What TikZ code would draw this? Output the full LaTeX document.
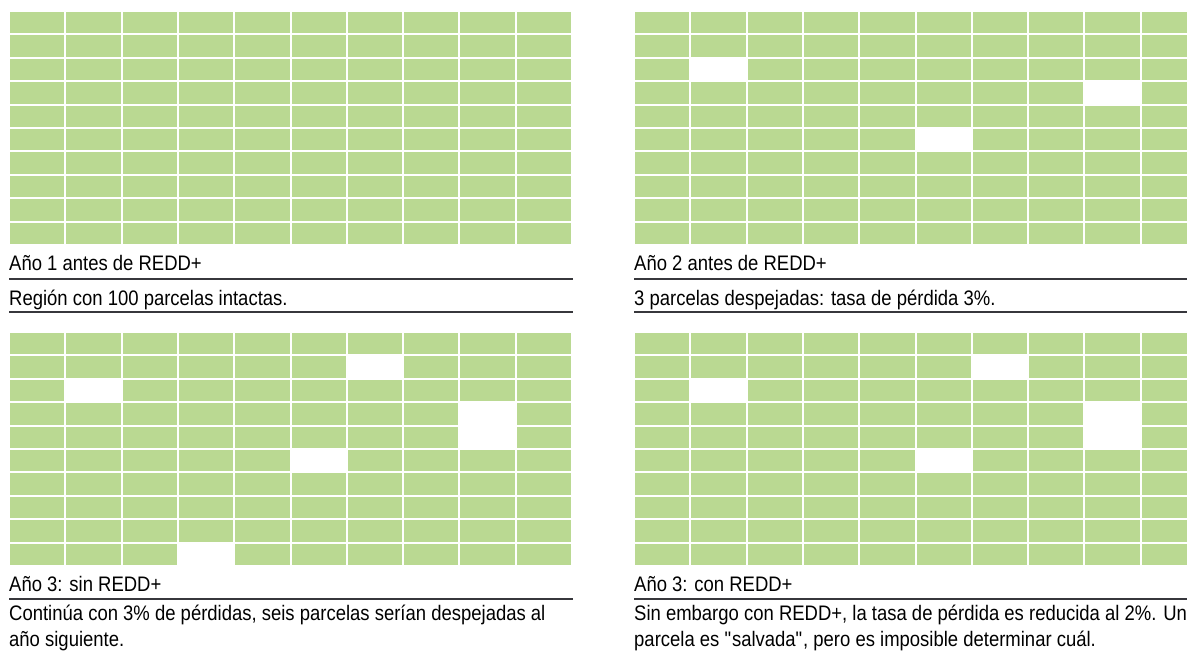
\documentclass[tikz,border=0pt]{standalone}
\usepackage{fontspec}
\setmainfont{Liberation Sans}[FakeStretch=0.88]
\usepackage{tikz}
\definecolor{parcela}{RGB}{186,217,146}
\definecolor{regla}{RGB}{55,55,60}
% 10 x 10 parcelas, esquina superior izquierda en (#1,#2)
\newcommand{\rejilla}[2]{%
  \foreach \c in {0,...,9}{%
    \foreach \r in {0,...,9}{%
      \fill[parcela] (#1+\c*56.3+1,#2+\r*23.4+1) rectangle ++(54.3,21.4);}}}
% parcela despejada
\newcommand{\despejada}[4]{%
  \fill[white] (#1+#3*56.3,#2+#4*23.4) rectangle ++(56.3,23.4);}

\begin{document}
\begin{tikzpicture}[x=1pt,y=-1pt,
  titulo/.style={anchor=base west,inner sep=0pt,font=\fontsize{21}{26}\selectfont},
  regla/.style={draw=regla,line width=1.4pt}]
\useasboundingbox (0,0) rectangle (1187,653);
\clip (0,0) rectangle (1187,653);

% rejillas
\rejilla{9}{11}
\rejilla{634}{11}
\rejilla{9}{332}
\rejilla{634}{332}

% parcelas despejadas
\foreach \c/\r in {1/2,8/3,5/5}{\despejada{634}{11}{\c}{\r}}
\foreach \c/\r in {1/2,6/1,8/3,8/4,5/5,3/9}{\despejada{9}{332}{\c}{\r}}
\foreach \c/\r in {1/2,6/1,8/3,8/4,5/5}{\despejada{634}{332}{\c}{\r}}

% textos arriba
\node[titulo] (ano1) at (9,270) {Año 1 antes de REDD+};
\node[titulo] (reg1) at (9,305) {Región con 100 parcelas intactas.};
\node[titulo] (ano2) at (634,270) {Año 2 antes de REDD+};
\node[titulo] (reg2) at (634,305) {3 parcelas despejadas: tasa de pérdida 3\%.};
\draw[regla] (9,279) -- (573,279);
\draw[regla] (9,312) -- (573,312);
\draw[regla] (634,279) -- (1190,279);
\draw[regla] (634,312) -- (1190,312);

% textos abajo
\node[titulo] (ano3s) at (9,591) {Año 3: sin REDD+};
\node[titulo] (sinA) at (9,620) {Continúa con 3\% de pérdidas, seis parcelas serían despejadas al};
\node[titulo] (sinB) at (9,646) {año siguiente.};
\node[titulo] (ano3c) at (634,591) {Año 3: con REDD+};
\node[titulo] (conA) at (634,620) {Sin embargo con REDD+, la tasa de pérdida es reducida al 2\%. Una};
\node[titulo] (conB) at (634,646) {parcela es \textquotedbl salvada\textquotedbl, pero es imposible determinar cuál.};
\draw[regla] (9,599) -- (573,599);
\draw[regla] (634,599) -- (1190,599);
\end{tikzpicture}
\end{document}
